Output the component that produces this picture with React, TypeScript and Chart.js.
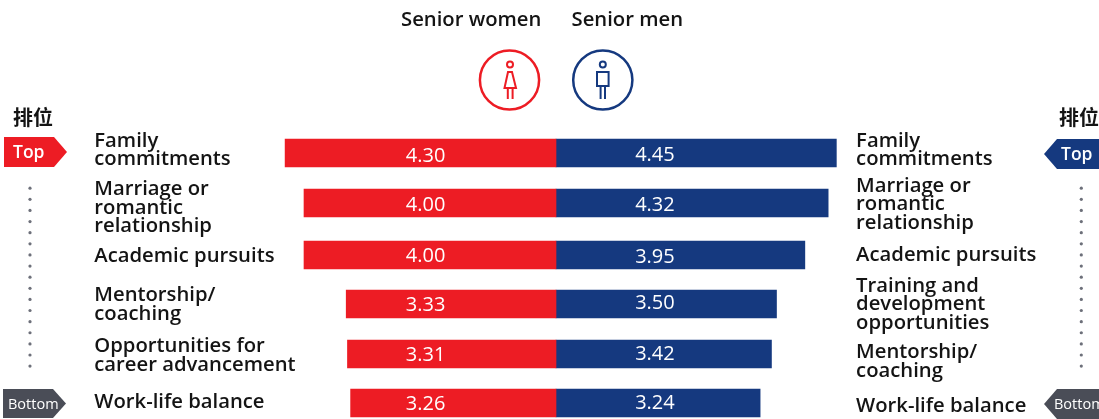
import React, { useEffect, useRef } from "react";
import { Chart, registerables } from "chart.js";

Chart.register(...registerables);

const womenCategories: string[][] = [
  ["Family", "commitments"],
  ["Marriage or", "romantic", "relationship"],
  ["Academic pursuits"],
  ["Mentorship/", "coaching"],
  ["Opportunities for", "career advancement"],
  ["Work-life balance"],
];
const menCategories: string[][] = [
  ["Family", "commitments"],
  ["Marriage or", "romantic", "relationship"],
  ["Academic pursuits"],
  ["Training and", "development", "opportunities"],
  ["Mentorship/", "coaching"],
  ["Work-life balance"],
];
const womenValues = [4.3, 4.0, 4.0, 3.33, 3.31, 3.26];
const menValues = [4.45, 4.32, 3.95, 3.5, 3.42, 3.24];
const seriesNames = ["Senior women", "Senior men"];
const rankTitle = "排位";
const rankTop = "Top";
const rankBottom = "Bottom";

// Layout-only nudges (pixels)
const rowNudge = [0, 0, 2, 1, 1, 0];
const womenLabelNudge = [-3, 5, 1, 0.5, 1.5, -1];
const menLabelNudge = [-3, 1.5, 0, 0.5, 7.5, 3];
const womenValueNudge = [3, 2.5, 1.5, 1.5, 1, 1];
const menValueNudge = [2.5, 2.5, 2, -0.5, 0.5, 0.5];

const RED = "#ed1c24";
const NAVY = "#15397f";
const GREY = "#4a4d57";
const INK = "#141414";
const LABEL_FONT = '600 20.25px "Open Sans"';
const LINE_H = 18.5;

function badge(
  ctx: CanvasRenderingContext2D,
  side: "left" | "right",
  x0: number,
  x1: number,
  tip: number,
  top: number,
  bottom: number,
  color: string
) {
  const mid = (top + bottom) / 2;
  ctx.fillStyle = color;
  ctx.beginPath();
  if (side === "left") {
    ctx.moveTo(x0, top);
    ctx.lineTo(x1, top);
    ctx.lineTo(tip, mid);
    ctx.lineTo(x1, bottom);
    ctx.lineTo(x0, bottom);
  } else {
    ctx.moveTo(x0, top);
    ctx.lineTo(x1, top);
    ctx.lineTo(x1, bottom);
    ctx.lineTo(x0, bottom);
    ctx.lineTo(tip, mid);
  }
  ctx.closePath();
  ctx.fill();
}

function drawIcons(ctx: CanvasRenderingContext2D) {
  ctx.lineWidth = 2.5;
  ctx.strokeStyle = RED;
  ctx.beginPath();
  ctx.arc(509.5, 80, 29.6, 0, Math.PI * 2);
  ctx.stroke();
  ctx.strokeStyle = NAVY;
  ctx.beginPath();
  ctx.arc(602.8, 80, 29.6, 0, Math.PI * 2);
  ctx.stroke();

  ctx.lineWidth = 2;
  ctx.strokeStyle = RED;
  ctx.beginPath();
  ctx.arc(510, 64.5, 3, 0, Math.PI * 2);
  ctx.stroke();
  ctx.beginPath();
  ctx.moveTo(508, 72);
  ctx.lineTo(512, 72);
  ctx.lineTo(516, 88);
  ctx.lineTo(504.5, 88);
  ctx.closePath();
  ctx.moveTo(507.8, 88);
  ctx.lineTo(507.8, 99);
  ctx.moveTo(512.6, 88);
  ctx.lineTo(512.6, 99);
  ctx.stroke();

  ctx.strokeStyle = NAVY;
  ctx.beginPath();
  ctx.arc(602.8, 64.5, 3, 0, Math.PI * 2);
  ctx.stroke();
  ctx.beginPath();
  ctx.rect(597, 72, 11.6, 14);
  ctx.moveTo(600.6, 86);
  ctx.lineTo(600.6, 99);
  ctx.moveTo(605, 86);
  ctx.lineTo(605, 99);
  ctx.stroke();
}

const decorPlugin = {
  id: "decor",
  beforeDatasetsDraw(chart: any) {
    chart.getSortedVisibleDatasetMetas().forEach((meta: any) => {
      meta.data.forEach((el: any, i: number) => {
        el.y = chart.scales.y.getPixelForValue(i) + rowNudge[i];
      });
    });
  },
  afterDatasetsDraw(chart: any) {
    const ctx: CanvasRenderingContext2D = chart.ctx;
    const xs = chart.scales.x;
    const ys = chart.scales.y;
    const rowY = (i: number) => ys.getPixelForValue(i) + rowNudge[i];
    ctx.save();
    ctx.textBaseline = "middle";

    // value labels
    ctx.font = '400 20px "Open Sans"';
    ctx.fillStyle = "#ffffff";
    ctx.textAlign = "center";
    womenValues.forEach((v, i) =>
      ctx.fillText(v.toFixed(2), xs.getPixelForValue(-2.07), rowY(i) + womenValueNudge[i])
    );
    menValues.forEach((v, i) =>
      ctx.fillText(v.toFixed(2), xs.getPixelForValue(1.57), rowY(i) + menValueNudge[i])
    );

    // category labels
    ctx.font = LABEL_FONT;
    ctx.fillStyle = INK;
    ctx.textAlign = "left";
    const block = (lines: string[], x: number, cy: number) => {
      const y0 = cy - ((lines.length - 1) * LINE_H) / 2;
      lines.forEach((l, k) => ctx.fillText(l, x, y0 + k * LINE_H));
    };
    womenCategories.forEach((c, i) => block(c, 94.3, rowY(i) + womenLabelNudge[i]));
    menCategories.forEach((c, i) => block(c, 856.1, rowY(i) + menLabelNudge[i]));

    // series titles
    ctx.fillText(seriesNames[0], 401, 20);
    ctx.fillText(seriesNames[1], 571.5, 20);

    // rank column
    ctx.font = '700 20px "Noto Sans CJK SC"';
    ctx.fillStyle = INK;
    ctx.fillText(rankTitle, 13, 117);
    ctx.fillText(rankTitle, 1059, 117);

    badge(ctx, "left", 4, 54, 67, 137, 167, RED);
    badge(ctx, "left", 3, 53, 66, 389, 418, GREY);
    badge(ctx, "right", 1057, 1099, 1044, 139, 169, NAVY);
    badge(ctx, "right", 1057, 1099, 1044, 389, 419, GREY);

    ctx.fillStyle = "#ffffff";
    ctx.font = '600 17.5px "Open Sans"';
    ctx.fillText(rankTop, 13, 153.5);
    ctx.fillText(rankTop, 1061, 155.5);
    ctx.font = '500 14.5px "Open Sans"';
    ctx.fillText(rankBottom, 8, 404.5);
    ctx.fillText(rankBottom, 1054, 404.5);

    // dotted rank line
    ctx.fillStyle = "#6d707a";
    for (let k = 0; k < 17; k++) {
      const y = 188.2 + k * 11.12;
      [30, 1081.3].forEach((x) => {
        ctx.beginPath();
        ctx.arc(x, y, 1.6, 0, Math.PI * 2);
        ctx.fill();
      });
    }

    drawIcons(ctx);
    ctx.restore();
  },
};

export default function App() {
  const ref = useRef<HTMLCanvasElement>(null);
  useEffect(() => {
    const chart = new Chart(ref.current as HTMLCanvasElement, {
      type: "bar",
      data: {
        labels: womenCategories.map((c) => c.join(" ")),
        datasets: [
          {
            label: seriesNames[0],
            data: womenValues.map((v) => -v),
            backgroundColor: RED,
            barThickness: 28,
            grouped: false,
            clip: false,
          },
          {
            label: seriesNames[1],
            data: menValues,
            backgroundColor: NAVY,
            barThickness: 28,
            grouped: false,
            clip: false,
          },
        ] as any,
      },
      options: {
        indexAxis: "y",
        animation: false,
        responsive: false,
        layout: { padding: { left: 272.5, right: 259.5, top: 153, bottom: 16 } },
        plugins: { legend: { display: false }, tooltip: { enabled: false } },
        scales: {
          x: { display: false, min: -4.5, max: 4.5 },
          y: { display: false, offset: false },
        },
      },
      plugins: [decorPlugin],
    } as any);
    return () => chart.destroy();
  }, []);
  return (
    <div style={{ position: "absolute", left: 0, top: 0, width: 1099, height: 419, background: "#fff" }}>
      <canvas ref={ref} width={1099} height={419} style={{ display: "block" }} />
    </div>
  );
}
